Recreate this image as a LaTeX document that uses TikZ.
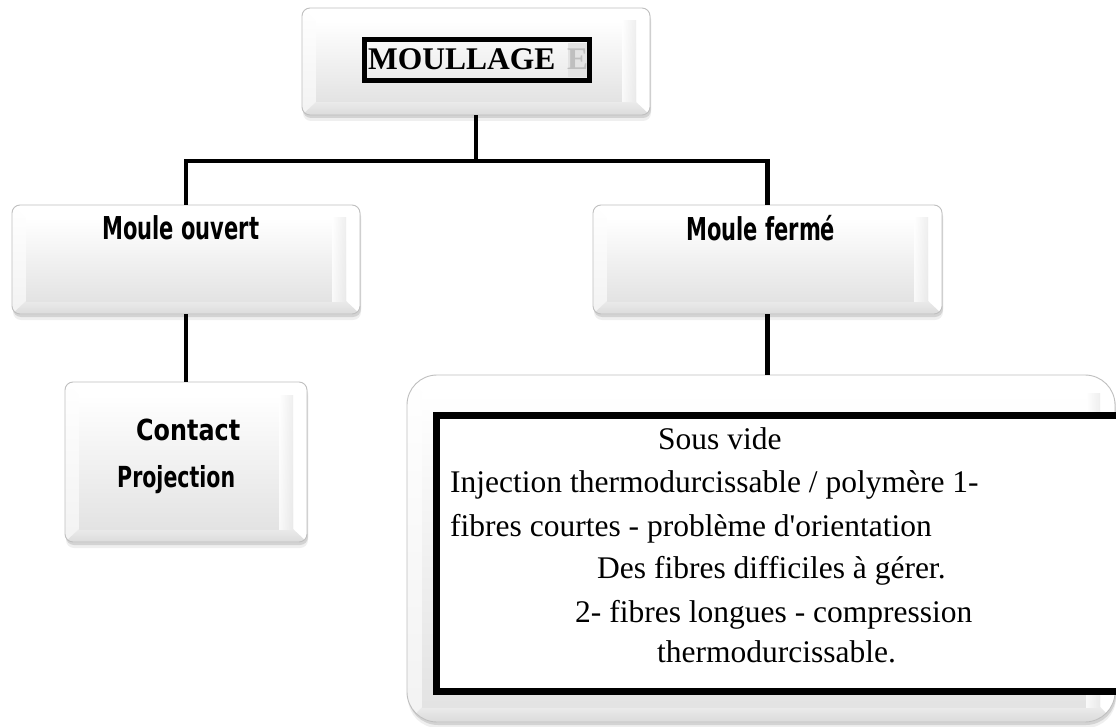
\documentclass[tikz,border=0pt]{standalone}
\usepackage{fontspec}
\usepackage{graphicx}
\setmainfont{Liberation Serif}[Ligatures=TeXOff]
\newfontfamily\labelfont{DejaVu Sans}
\usetikzlibrary{shadows,calc}

% bold sans label squeezed horizontally to a given width: {width}{size}{text}
\newcommand\fitlabel[3]{\resizebox{#1}{\height}{\labelfont\bfseries\fontsize{#2}{#2}\selectfont #3}}

% bevelled faces of a button: {side inset}{top inset}{bottom inset}
\newcommand\bevelfacets[3]{%
  \begin{scope}[sharp corners, draw=none]
  \coordinate (bv-sw) at (path picture bounding box.south west);
  \coordinate (bv-ne) at (path picture bounding box.north east);
  \coordinate (bv-nw) at (path picture bounding box.north west);
  \coordinate (bv-se) at (path picture bounding box.south east);
  \coordinate (bv-isw) at ($(bv-sw)+(#1,#3)$);
  \coordinate (bv-ise) at ($(bv-se)+(-#1,#3)$);
  \coordinate (bv-inw) at ($(bv-nw)+(#1,-#2)$);
  \coordinate (bv-ine) at ($(bv-ne)+(-#1,-#2)$);
  \fill[white] (bv-nw) -- (bv-ne) -- (bv-ine) -- (bv-inw) -- cycle;
  \shade[top color=white, bottom color=gray!10] (bv-nw) -- (bv-inw) -- (bv-isw) -- (bv-sw) -- cycle;
  \fill[white] (bv-ne) -- (bv-ine) -- (bv-ise) -- (bv-se) -- cycle;
  \shade[top color=gray!16, bottom color=gray!28] (bv-sw) -- (bv-isw) -- (bv-ise) -- (bv-se) -- cycle;
  \shade[top color=white, bottom color=gray!22] (bv-isw) rectangle (bv-ine);
  \shade[left color=white, right color=gray!16, opacity=0.8] ($(bv-ine)+(-14pt,0)$) rectangle (bv-ise);
  \end{scope}
}

\tikzset{
  bevelbox/.style={
    draw=gray!50, line width=0.9pt, rounded corners=8pt, fill=white,
    inner sep=0pt,
    drop shadow={shadow xshift=1pt, shadow yshift=-6pt, opacity=0.12, fill=gray},
    drop shadow={shadow xshift=1pt, shadow yshift=-3pt, opacity=0.25, fill=gray},
    path picture={\bevelfacets{14pt}{13pt}{13pt}}
  },
  bigbevel/.style={
    rounded corners=30pt,
    path picture={\bevelfacets{15pt}{18pt}{15pt}}
  },
  conn/.style={line width=4.5pt, black},
  bodytext/.style={anchor=base west, inner sep=0pt, font=\fontsize{31.5}{36}\selectfont},
  labeltext/.style={anchor=base west, inner sep=0pt}
}

\begin{document}
\begin{tikzpicture}[x=1pt, y=-1pt]
\useasboundingbox[fill=white] (0,0) rectangle (1116,727);

% buttons
\node[bevelbox, minimum width=348pt, minimum height=107pt] (top) at (476,61.5) {};
\node[bevelbox, minimum width=348pt, minimum height=109pt] (open) at (186,259.5) {};
\node[bevelbox, minimum width=349pt, minimum height=109pt] (closed) at (767.5,259.5) {};
\node[bevelbox, minimum width=242pt, minimum height=160pt] (contact) at (186,462) {};
\node[bevelbox, bigbevel, minimum width=708pt, minimum height=347pt] (moulds) at (761,548.5) {};

% title with its frame
\node[draw, line width=5pt, minimum width=225pt, minimum height=41pt, inner sep=0pt] (title-frame) at (477,60) {};
\fill[gray!22] (568,43) rectangle (587,77);
\node[anchor=base west, inner sep=0pt, font=\bfseries\fontsize{31.5}{36}\selectfont] (title) at (368,70) {MOULLAGE};
\node[anchor=base west, inner sep=0pt, text=gray!50, font=\bfseries\fontsize{31.5}{36}\selectfont] (title-e) at (567,70) {E};

% labels of the moulding families
\node[labeltext] (open-label) at (102,240) {\fitlabel{157pt}{31.5}{Moule ouvert}};
\node[labeltext] (closed-label) at (686,241) {\fitlabel{149pt}{31.5}{Moule fermé}};
\node[labeltext] (contact-label) at (136,440) {\fitlabel{104pt}{29}{Contact}};
\node[labeltext] (projection-label) at (117,487) {\fitlabel{118pt}{29}{Projection}};

% framed list of closed-mould processes
\fill[white] (433,412) rectangle (1130,695);
\draw[line width=7pt] (1130,415.5) -- (436.5,415.5) -- (436.5,691.5) -- (1130,691.5);
\node[bodytext] (l1) at (658,449) {Sous vide};
\node[bodytext] (l2) at (450,492) {Injection thermodurcissable / polymère 1-};
\node[bodytext] (l3) at (450,536) {fibres courtes - problème d'orientation};
\node[bodytext] (l4) at (597,578) {Des fibres difficiles à gérer.};
\node[bodytext] (l5) at (575,622) {2- fibres longues - compression};
\node[bodytext] (l6) at (657,662) {thermodurcissable.};

% connectors
\coordinate (bus) at (0,161);
\draw[conn] (top.south) -- (top.south |- bus);
\draw[conn] (open.north) |- (closed.north |- bus) -- (closed.north);
\draw[conn] (open.south) -- (contact.north);
\draw[conn] (closed.south) -- (closed.south |- moulds.north);
\end{tikzpicture}
\end{document}
